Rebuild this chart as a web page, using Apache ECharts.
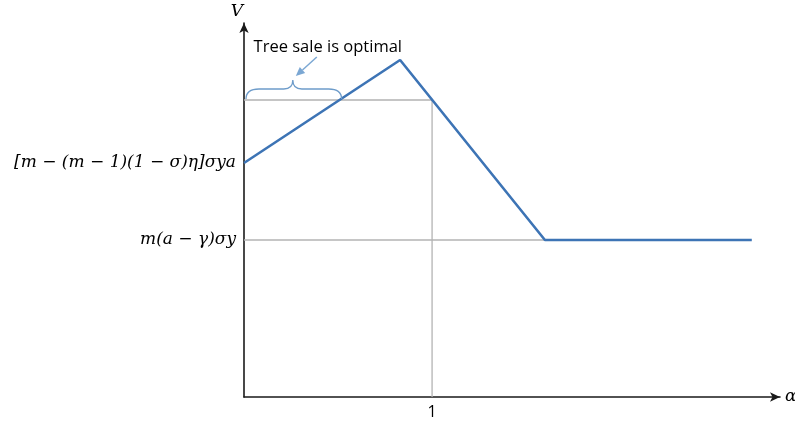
<!DOCTYPE html>
<html>
<head>
<meta charset="utf-8">
<script src="https://cdn.jsdelivr.net/npm/echarts@6/dist/echarts.min.js"></script>
<style>html,body{margin:0;padding:0;background:#fff}#c{width:795px;height:424px}</style>
</head>
<body>
<div id="c"></div>
<script>
// Data (arbitrary value units)
var valueCurve = [[0, 234], [0.83, 337], [1.6, 157], [2.70, 157]];
var refHigh = 297;          // tree-sale threshold level
var refLow = 157;           // m(a − γ)σy level
var refStart = 234;         // [m − (m − 1)(1 − σ)η]σya level
var alphaOne = 1;
var braceRange = [0, 0.519];
var yTickValues = [157, 234];
var yTickLabels = {157: 'm(a − γ)σy', 234: '[m − (m − 1)(1 − σ)η]σya'};
var xTickValues = [1];
var annotationText = 'Tree sale is optimal';

var mathFont = 'DejaVu Serif';
var chart = echarts.init(document.getElementById('c'));

var option = {
  animation: false,
  grid: {left: 244, right: 15, top: 23, bottom: 27, outerBoundsMode: 'none', containLabel: false},
  xAxis: {
    type: 'value', min: 0, max: 2.85,
    name: 'α', nameLocation: 'end', nameGap: 5,
    nameTextStyle: {fontFamily: mathFont, fontStyle: 'italic', fontSize: 17, color: '#000', verticalAlign: 'middle'},
    axisLine: {show: true, lineStyle: {color: '#1a1a1a', width: 1.6}, symbol: ['none', 'arrow'], symbolSize: [7, 10]},
    axisTick: {show: false},
    splitLine: {show: false},
    axisLabel: {customValues: xTickValues, formatter: function (v) { return String(v); },
      fontFamily: 'Open Sans', fontSize: 16, color: '#000', margin: 7}
  },
  yAxis: {
    type: 'value', min: 0, max: 374,
    name: 'V', nameLocation: 'end', nameGap: 3,
    nameTextStyle: {fontFamily: mathFont, fontStyle: 'italic', fontSize: 17, color: '#000', padding: [0, 14, 0, 0]},
    axisLine: {show: true, lineStyle: {color: '#1a1a1a', width: 1.6}, symbol: ['none', 'arrow'], symbolSize: [7, 10]},
    axisTick: {show: false},
    splitLine: {show: false},
    axisLabel: {customValues: yTickValues, formatter: function (v) { return yTickLabels[v]; },
      fontFamily: mathFont, fontStyle: 'italic', fontSize: 17, color: '#000', margin: 8}
  },
  series: [
    {
      type: 'line', data: [[0, refLow], [valueCurve[2][0], refLow]],
      symbol: 'none', lineStyle: {color: '#b3b3b3', width: 1.3}, z: 1, silent: true
    },
    {
      type: 'line', data: [[0, refHigh], [alphaOne, refHigh], [alphaOne, 0]],
      symbol: 'none', lineStyle: {color: '#b3b3b3', width: 1.3}, z: 1, silent: true
    },
    {
      type: 'line', data: valueCurve, symbol: 'none',
      lineStyle: {color: '#3d74b5', width: 2.6}, z: 3
    },
    {
      type: 'custom', z: 4, silent: true,
      data: [[braceRange[0], braceRange[1]]],
      renderItem: function (params, api) {
        var p0 = api.coord([api.value(0), refHigh]);
        var p1 = api.coord([api.value(1), refHigh]);
        var xb0 = p0[0] + 2, xb1 = p1[0], yb = p0[1] - 1;
        var yt = yb - 10, yc = yb - 19;
        var xm = (xb0 + xb1) / 2 - 1;
        var r = 13;
        var d = 'M' + xb0 + ' ' + yb +
          ' Q' + xb0 + ' ' + yt + ' ' + (xb0 + r) + ' ' + yt +
          ' L' + (xm - 9) + ' ' + yt +
          ' Q' + xm + ' ' + yt + ' ' + xm + ' ' + yc +
          ' Q' + xm + ' ' + yt + ' ' + (xm + 9) + ' ' + yt +
          ' L' + (xb1 - r) + ' ' + yt +
          ' Q' + xb1 + ' ' + yt + ' ' + xb1 + ' ' + yb;
        // arrow from label toward brace cusp
        var ax0 = xm + 24, ay0 = yc - 23;
        var ax1 = xm + 3, ay1 = yc - 4;
        var ang = Math.atan2(ay1 - ay0, ax1 - ax0);
        var hl = 9, hw = 4;
        var bx = ax1 - hl * Math.cos(ang), by = ay1 - hl * Math.sin(ang);
        var nx = -Math.sin(ang), ny = Math.cos(ang);
        return {
          type: 'group',
          children: [
            {type: 'path', shape: {pathData: d}, style: {fill: 'none', stroke: '#6e9cca', lineWidth: 1.3}},
            {type: 'line', shape: {x1: ax0, y1: ay0, x2: bx, y2: by}, style: {stroke: '#7ba7d3', lineWidth: 1.5}},
            {type: 'polygon', shape: {points: [[ax1, ay1], [bx + nx * hw, by + ny * hw], [bx - nx * hw, by - ny * hw]]},
              style: {fill: '#7ba7d3'}},
            {type: 'text', x: xm + 35, y: ay0 - 10,
              style: {text: annotationText, fontFamily: 'Open Sans', fontSize: 16.5, fill: '#000',
                align: 'center', verticalAlign: 'middle'}}
          ]
        };
      }
    }
  ]
};
chart.setOption(option);
</script>
</body>
</html>
